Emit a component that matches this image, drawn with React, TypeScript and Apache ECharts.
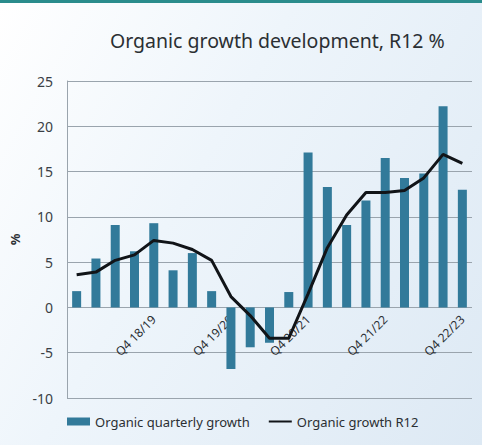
import React, { useEffect, useRef } from "react";
import * as echarts from "echarts";

const quarters = [
  "Q4 17/18", "Q1 18/19", "Q2 18/19", "Q3 18/19", "Q4 18/19",
  "Q1 19/20", "Q2 19/20", "Q3 19/20", "Q4 19/20",
  "Q1 20/21", "Q2 20/21", "Q3 20/21", "Q4 20/21",
  "Q1 21/22", "Q2 21/22", "Q3 21/22", "Q4 21/22",
  "Q1 22/23", "Q2 22/23", "Q3 22/23", "Q4 22/23",
];
const quarterlyGrowth = [1.8, 5.4, 9.1, 6.2, 9.3, 4.1, 6.0, 1.8, -6.8, -4.4, -3.9, 1.7, 17.1, 13.3, 9.1, 11.8, 16.5, 14.3, 14.8, 22.2, 13.0];
const growthR12 = [3.6, 3.9, 5.2, 5.8, 7.4, 7.1, 6.4, 5.2, 1.2, -0.9, -3.4, -3.4, 1.5, 6.6, 10.2, 12.7, 12.7, 12.9, 14.3, 16.9, 15.9];

const FONT = "'Noto Sans', sans-serif";

export default function App() {
  const ref = useRef<HTMLDivElement>(null);
  useEffect(() => {
    if (!ref.current) return;
    const chart = echarts.init(ref.current, undefined, { renderer: "svg" });
    chart.setOption({
      animation: false,
      title: {
        text: "Organic growth development, R12 %",
        left: 105,
        top: 25,
        textStyle: { fontFamily: FONT, fontSize: 19.5, fontWeight: "normal", color: "#2b2f33" },
      },
      legend: {
        bottom: 12,
        left: 62,
        itemWidth: 23,
        itemHeight: 8,
        itemGap: 18,
        textStyle: { fontFamily: FONT, fontSize: 13, color: "#2b2f33" },
        data: [
          { name: "Organic quarterly growth", icon: "rect" },
          {
            name: "Organic growth R12",
            itemStyle: { color: "transparent", borderColor: "transparent", borderWidth: 0 },
          },
        ],
      },
      grid: { left: 67, right: 10, top: 81, bottom: 47 },
      xAxis: {
        type: "category",
        data: quarters,
        offset: -90.7,
        axisLine: { show: false, onZero: false },
        axisTick: { show: false },
        axisLabel: {
          rotate: 45,
          margin: 10,
          interval: (i: number) => i % 4 === 0 && i > 0,
          fontFamily: FONT,
          fontSize: 12,
          color: "#2b2f33",
        },
      },
      yAxis: {
        type: "value",
        min: -10,
        max: 25,
        interval: 5,
        name: "%",
        nameLocation: "middle",
        nameRotate: 90,
        nameGap: 42,
        nameTextStyle: { fontFamily: FONT, fontSize: 13, color: "#2b2f33", fontWeight: "bold" },
        axisLine: { show: true, lineStyle: { color: "#9aa4ad" } },
        axisTick: { show: false },
        axisLabel: { margin: 14, fontFamily: FONT, fontSize: 14, color: "#3a3f45" },
        splitLine: { lineStyle: { color: "#9aa4ad", width: 1 } },
      },
      series: [
        {
          name: "Organic quarterly growth",
          type: "bar",
          data: quarterlyGrowth,
          barWidth: 9,
          itemStyle: { color: "#327a9a" },
        },
        {
          name: "Organic growth R12",
          type: "line",
          data: growthR12,
          symbol: "none",
          lineStyle: { color: "#111418", width: 3 },
          itemStyle: { color: "#111418" },
        },
      ],
    });
    return () => chart.dispose();
  }, []);
  return (
    <div
      style={{
        position: "fixed",
        left: 0,
        top: 0,
        width: 482,
        height: 445,
        background: "linear-gradient(120deg, #ffffff 0%, #eef5fb 40%, #dde9f4 100%)",
        borderTop: "3px solid #2a8c8c",
        boxSizing: "border-box",
      }}
    >
      <div ref={ref} style={{ position: "absolute", left: 0, top: -3, width: 482, height: 445 }} />
    </div>
  );
}
